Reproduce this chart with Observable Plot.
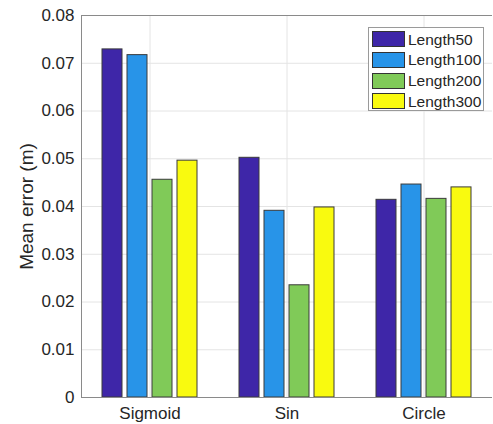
<!DOCTYPE html>
<html>
<head>
<meta charset="utf-8">
<script src="https://cdn.jsdelivr.net/npm/d3@7"></script>
<script src="https://cdn.jsdelivr.net/npm/@observablehq/plot@0.6"></script>
<style>
  html, body { margin: 0; padding: 0; background: #fff; }
  #wrap { position: relative; width: 493px; height: 424px; font-family: "Liberation Sans", Arial, sans-serif; }
  #legend { position: absolute; left: 368px; top: 27px; width: 116px; height: 84px; background: #fff; border: 1px solid #9a9a9a; box-sizing: border-box; padding: 1px 0 0 3px; }
  .row { display: flex; align-items: center; height: 20.7px; }
  .sw { width: 33px; height: 16px; box-sizing: border-box; border: 1px solid #333; margin-right: 3px; }
  .lb { font-size: 15.5px; color: #262626; line-height: 1; }
</style>
</head>
<body>
<div id="wrap"></div>
<script>
const categories = ["Sigmoid", "Sin", "Circle"];
const series = ["Length50", "Length100", "Length200", "Length300"];
const colors = ["#3e26a8", "#2894e8", "#80ca58", "#f9fa0f"];
const values = {
  Length50:  [0.0729, 0.0502, 0.0414],
  Length100: [0.0717, 0.0391, 0.0446],
  Length200: [0.0456, 0.0235, 0.0416],
  Length300: [0.0496, 0.0398, 0.0440]
};
const yTicks = [0, 0.01, 0.02, 0.03, 0.04, 0.05, 0.06, 0.07, 0.08];

const data = [];
categories.forEach((c, i) => series.forEach(s => data.push({category: c, series: s, value: values[s][i]})));

const axisColor = "#8a8a8a";
const gridColor = "#e4e4e4";
const textColor = "#262626";

const chart = Plot.plot({
  width: 493,
  height: 424,
  marginLeft: 80,
  marginRight: 0,
  marginTop: 15,
  marginBottom: 27,
  style: {fontFamily: "'Liberation Sans', Arial, sans-serif", color: textColor, background: "#fff"},
  fx: {domain: categories, padding: 0},
  x: {domain: series, paddingInner: 0.19, paddingOuter: 0.82, axis: null},
  y: {domain: [0, 0.08]},
  color: {domain: series, range: colors},
  marks: [
    Plot.gridY(yTicks, {stroke: gridColor, strokeOpacity: 1}),
    Plot.gridFx({stroke: gridColor, strokeOpacity: 1}),
    Plot.barY(data, {fx: "category", x: "series", y: "value", fill: "series", stroke: "#3a3a3a", strokeWidth: 1}),
    Plot.ruleY([0, 0.08], {stroke: axisColor}),
    Plot.frame({anchor: "left", facetAnchor: "left", stroke: axisColor}),
    Plot.axisY(yTicks, {
      anchor: "left", tickSize: 0, tickPadding: 7, fontSize: 17, fill: textColor,
      tickFormat: d => d === 0 ? "0" : d.toFixed(2),
      label: "Mean error (m)", labelAnchor: "center", labelArrow: "none", labelOffset: 62
    }),
    Plot.axisFx({anchor: "bottom", tickSize: 0, tickPadding: 9, fontSize: 17, fill: textColor, label: null})
  ]
});
chart.querySelectorAll("g[aria-label='y-axis label'] text, g[aria-label='y-axis label']").forEach(e => e.setAttribute("font-size", "19"));
document.getElementById("wrap").appendChild(chart);

const legend = document.createElement("div");
legend.id = "legend";
series.forEach((s, i) => {
  const row = document.createElement("div");
  row.className = "row";
  const sw = document.createElement("div");
  sw.className = "sw";
  sw.style.background = colors[i];
  const lb = document.createElement("span");
  lb.className = "lb";
  lb.textContent = s;
  row.appendChild(sw);
  row.appendChild(lb);
  legend.appendChild(row);
});
document.getElementById("wrap").appendChild(legend);
</script>
</body>
</html>
